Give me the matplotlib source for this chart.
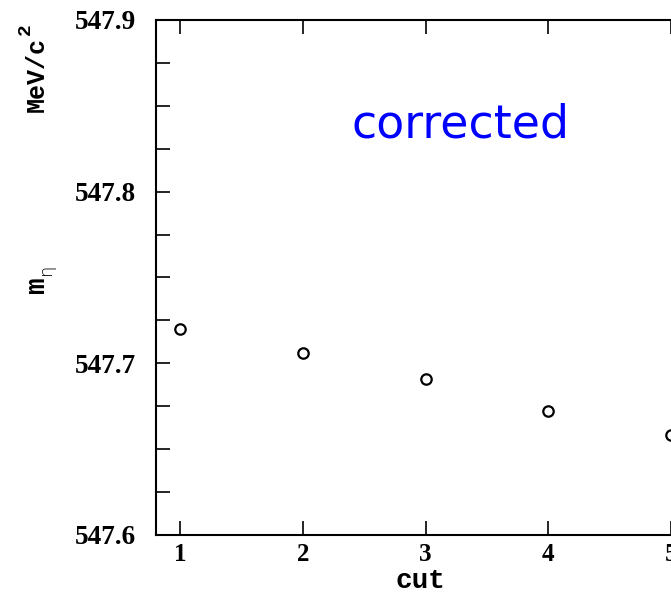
import numpy as np
import matplotlib
matplotlib.use("Agg")
import matplotlib.pyplot as plt
from matplotlib.ticker import MultipleLocator

plt.rcParams['mathtext.fontset'] = 'custom'
plt.rcParams['mathtext.rm'] = 'Liberation Mono:bold'
plt.rcParams['mathtext.it'] = 'DejaVu Sans:light'

# eta mass vs cut number
cut = [1, 2, 3, 4, 5]
m_eta = [547.720, 547.706, 547.691, 547.672, 547.658]

fig = plt.figure(figsize=(6.71, 5.92), dpi=100)
# axes run past the right border of the canvas
x0, x1 = 0.8, 5.2
ppu = 122.75 / 671  # figure fraction per x unit
ax = fig.add_axes([155.5 / 671, 1 - 535 / 592, (x1 - x0) * ppu, 515 / 592])

ax.plot(cut, m_eta, 'o', mfc='none', mec='black', mew=1.6, ms=7.5, clip_on=False)

ax.set_xlim(x0, x1)
ax.set_ylim(547.6, 547.9)
ax.set_xticks(cut)
ax.set_yticks([547.6, 547.7, 547.8, 547.9])
ax.yaxis.set_minor_locator(MultipleLocator(0.025))
ax.tick_params(which='both', direction='in', top=True, right=True, length=10, width=1.2)
ax.tick_params(axis='x', pad=6)
ax.tick_params(axis='y', pad=14)
for lab in ax.get_xticklabels():
    lab.set_fontfamily('Liberation Serif')
    lab.set_fontweight('bold')
    lab.set_fontsize(18)
for lab in ax.get_yticklabels():
    lab.set_fontfamily('Liberation Serif')
    lab.set_fontweight('bold')
    lab.set_fontsize(19.5)
for s in ax.spines.values():
    s.set_linewidth(1.5)

fig.text(461 / 671, 1 - 138 / 592, 'corrected', color='blue',
         fontsize=33, ha='center', va='baseline', family='DejaVu Sans')

fig.text(420 / 671, 1 - 581 / 592, 'cut', family='Liberation Mono', weight='bold',
         fontsize=20, ha='center', va='center')
fig.text(37 / 671, 1 - 75 / 592, 'MeV/c', family='Liberation Mono', weight='bold',
         fontsize=18, rotation=90, ha='center', va='center')
fig.text(25 / 671, 1 - 29 / 592, '2', family='Liberation Mono', weight='bold',
         fontsize=14, rotation=90, ha='center', va='center')
fig.text(37 / 671, 1 - 286 / 592, 'm', family='Liberation Mono', weight='bold',
         fontsize=20, rotation=90, ha='center', va='center')
fig.text(50 / 671, 1 - 272 / 592, r'$\eta$', fontsize=13, rotation=90,
         ha='center', va='center')

fig.savefig('out.png', dpi=100)
